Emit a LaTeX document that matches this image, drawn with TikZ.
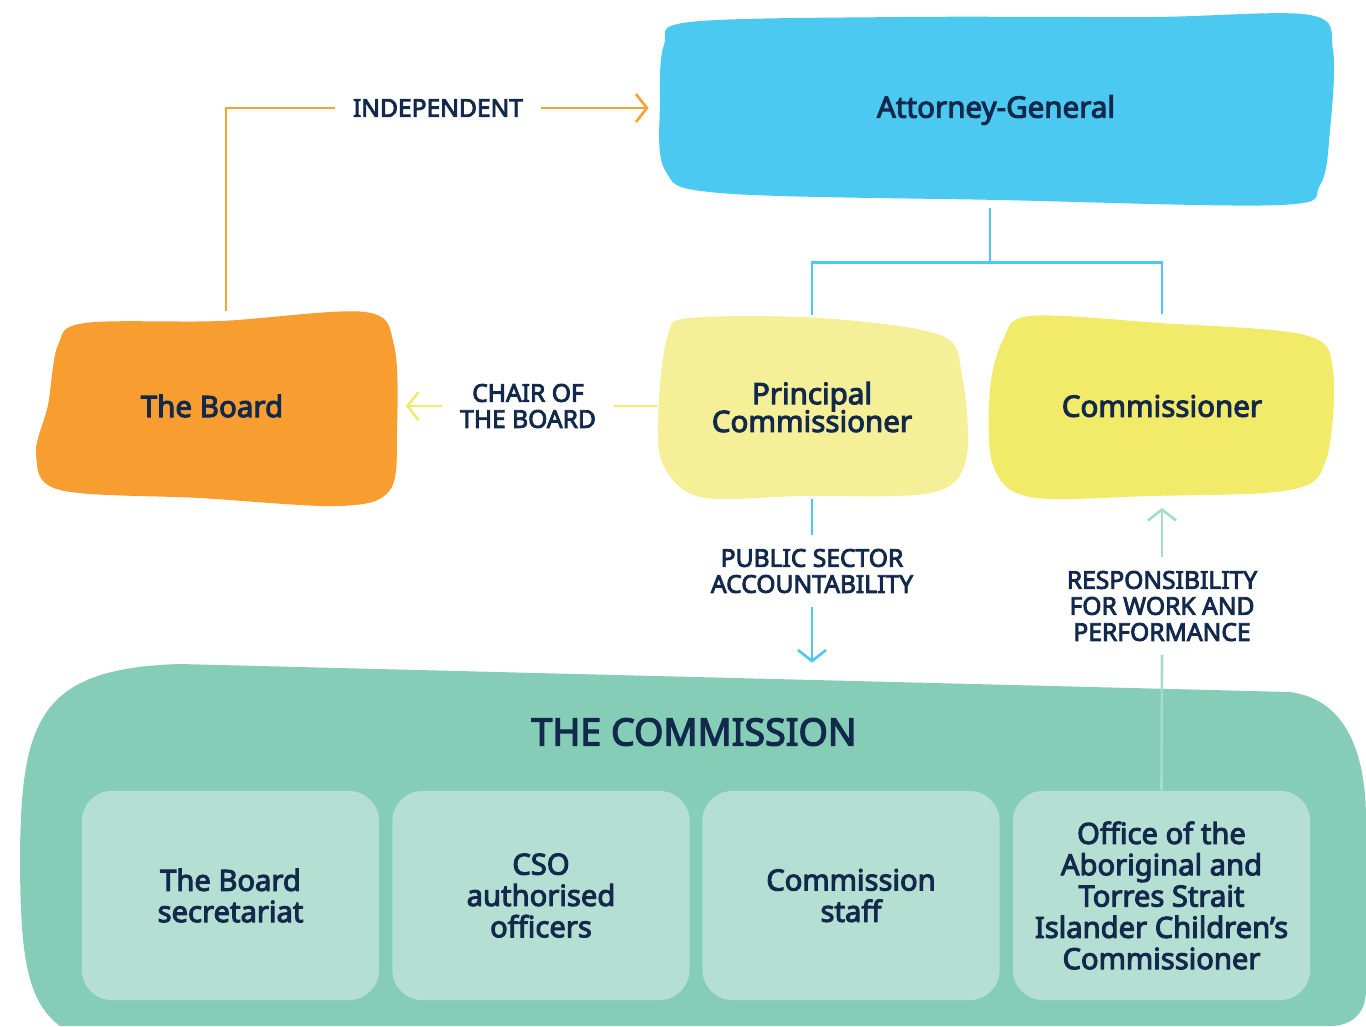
\documentclass[tikz,border=0pt]{standalone}
\usepackage{fontspec}
\setmainfont{Noto Sans}[AutoFakeBold=3.4]
\usetikzlibrary{arrows.meta}

\definecolor{navy}{HTML}{13294B}
\definecolor{agblue}{HTML}{4BC9F1}
\definecolor{boardorange}{HTML}{F89E31}
\definecolor{pcyellow}{HTML}{F5F097}
\definecolor{comyellow}{HTML}{F2EB69}
\definecolor{commgreen}{HTML}{85CDB6}
\definecolor{boxgreen}{HTML}{B5DFD2}
\definecolor{lineorange}{HTML}{F6A532}
\definecolor{lineyellow}{HTML}{F2EB69}
\definecolor{lineblue}{HTML}{4DC8F0}
\definecolor{linegreen}{HTML}{A6DCC9}

\newcommand{\blobfont}{\fontsize{8.4}{7.9}\selectfont\bfseries\lineskiplimit=-5pt\relax}

\tikzset{
  blobtext/.style={font=\blobfont, text=navy, align=center, inner sep=0pt},
  linklabel/.style={font=\fontsize{7}{7.4}\selectfont\bfseries, text=navy, align=center, inner xsep=0.17cm, inner ysep=0.13cm},
  unitbox/.style={fill=boxgreen, rounded corners=0.3cm, minimum width=2.97cm, minimum height=2.09cm,
    font=\fontsize{8.3}{8.9}\selectfont\bfseries, text=navy, align=center},
  link/.style={line width=0.75pt},
  openarrow/.style={-{Straight Barb[length=1.1mm,width=2.8mm]}}
}

\begin{document}
\begin{tikzpicture}[x=0.01cm, y=-0.01cm]
    \useasboundingbox (0,0) rectangle (1366,1026);

    % blobs
    \fill[agblue] plot[smooth cycle, tension=0.55] coordinates {(690,22) (900,17) (1150,17) (1310,15) (1333,50) (1330,130) (1320,185) (1280,205) (1000,200) (720,193) (665,170) (660,100) (664,45)};
    \fill[boardorange] plot[smooth cycle, tension=0.55] coordinates {(85,323) (220,321) (365,312) (394,345) (397,430) (390,490) (340,506) (200,498) (60,490) (36,455) (48,405) (58,345)};
    \fill[pcyellow] plot[smooth cycle, tension=0.55] coordinates {(690,318) (820,318) (940,335) (962,375) (966,460) (930,493) (800,496) (700,497) (662,462) (659,400) (668,335)};
    \fill[comyellow] plot[smooth cycle, tension=0.55] coordinates {(1030,316) (1160,323) (1305,335) (1333,370) (1326,460) (1290,490) (1150,496) (1030,497) (993,465) (990,390) (1003,340)};
    \fill[commgreen] (60,1026) .. controls (25,1000) and (20,950) .. (20,850)
      .. controls (22,720) and (40,668) .. (180,664) -- (1290,692)
      .. controls (1350,700) and (1366,760) .. (1366,820) -- (1366,990)
      .. controls (1366,1015) and (1350,1026) .. (1330,1026) -- cycle;

    \node[blobtext, minimum width=6.77cm, minimum height=1.95cm] (ag)    at (996,110)  {Attorney-General};
    \node[blobtext, minimum width=3.70cm, minimum height=1.88cm] (board) at (212,406)  {The Board};
    \node[blobtext, minimum width=3.09cm, minimum height=1.82cm] (pc)    at (812,407)  {Principal\\Commissioner};
    \node[blobtext, minimum width=3.45cm, minimum height=1.82cm] (comm)  at (1162,406) {Commissioner};
    \node[minimum width=13.46cm, minimum height=3.63cm, inner sep=0pt] (commission) at (693,845) {};
    \node[font=\fontsize{10.7}{11}\selectfont\bfseries, text=navy] (title) at (694,732) {THE COMMISSION};

    \node[unitbox] (bsec)   at (230.5,895.5) {The Board\\secretariat};
    \node[unitbox] (cso)    at (541,895.5)   {CSO\\authorised\\officers};
    \node[unitbox] (cstaff) at (851,895.5)   {Commission\\staff};
    \node[unitbox] (office) at (1161.5,895.5) {Office of the\\Aboriginal and\\Torres Strait\\Islander Children’s\\Commissioner};

    \node[linklabel] (indep)  at (438,108)  {INDEPENDENT};
    \node[linklabel] (chair)  at (528,406)  {CHAIR OF\\THE BOARD};
    \node[linklabel] (pubsec) at (812,571)  {PUBLIC SECTOR\\ACCOUNTABILITY};
    \node[linklabel] (resp)   at (1162,606) {RESPONSIBILITY\\FOR WORK AND\\PERFORMANCE};

    % connectors
    \draw[link, lineblue] ([xshift=-0.06cm]ag.south) -- ++(0,54) -| (pc.north);
    \draw[link, lineblue] ([xshift=-0.06cm]ag.south) -- ++(0,54) -| (comm.north);
    \draw[link, lineorange] ([xshift=0.14cm]board.north) |- (indep.west);
    \draw[link, lineorange, openarrow, shorten >=0.08cm] (indep.east) -- (indep.east -| ag.west);
    \draw[link, lineyellow] (pc.west |- chair.east) -- (chair.east);
    \draw[link, lineyellow, openarrow, shorten >=0.08cm] (chair.west) -- (chair.west -| board.east);
    \draw[link, lineblue] (pc.south) -- (pubsec.north);
    \draw[link, lineblue, openarrow] (pubsec.south) -- (pubsec.south |- commission.north);
    \draw[link, linegreen] (office.north) -- (resp.south);
    \draw[link, linegreen, openarrow, shorten >=0.1cm] (resp.north) -- (comm.south);
\end{tikzpicture}
\end{document}
